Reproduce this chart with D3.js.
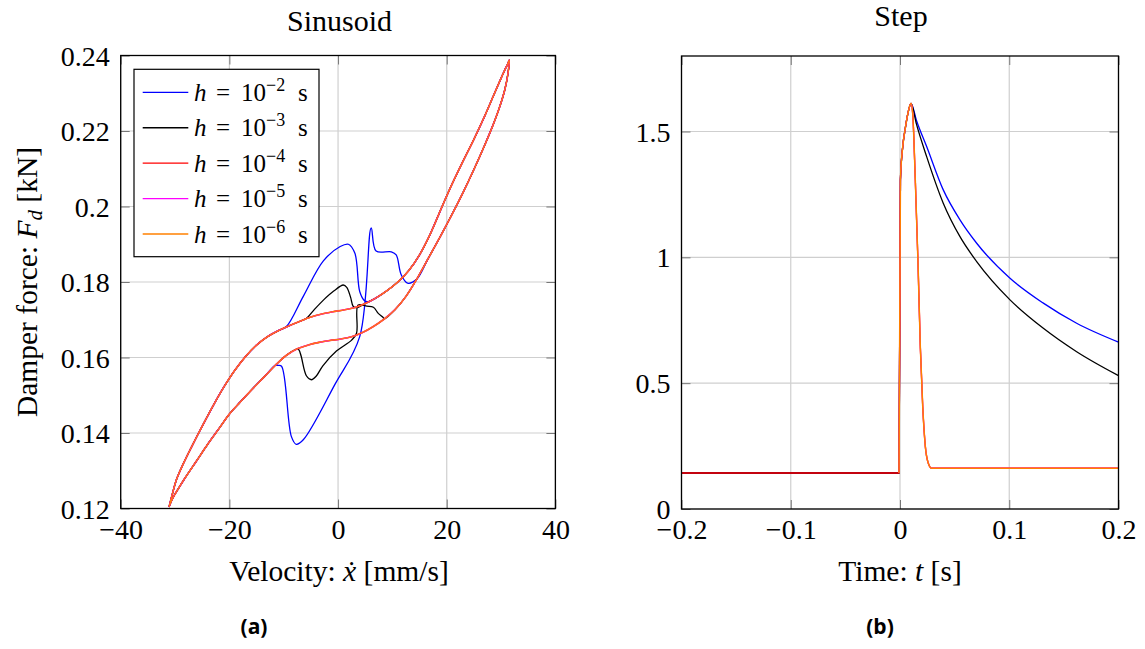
<!DOCTYPE html>
<html>
<head>
<meta charset="utf-8">
<script src="https://cdn.jsdelivr.net/npm/d3@7"></script>
<style>
  body { margin: 0; background: #fff; }
  text { fill: #000; }
</style>
</head>
<body>
<div id="chart"></div>
<script>
// ---------- data ----------
var hExp = ["−2", "−3", "−4", "−5", "−6"];

var velTicks = [-40, -20, 0, 20, 40];
var velTickLabels = ["−40", "−20", "0", "20", "40"];
var forceTicks = [0.12, 0.14, 0.16, 0.18, 0.2, 0.22, 0.24];
var forceTickLabels = ["0.12", "0.14", "0.16", "0.18", "0.2", "0.22", "0.24"];
var timeTicks = [-0.2, -0.1, 0, 0.1, 0.2];
var timeTickLabels = ["−0.2", "−0.1", "0", "0.1", "0.2"];
var stepTicks = [0, 0.5, 1, 1.5];
var stepTickLabels = ["0", "0.5", "1", "1.5"];

// sinusoid, converged loop (h = 1e-4 ... 1e-6)
// branch with increasing velocity
var upV = [-31.1, -30.5, -29.7, -28.5, -27, -25, -23, -21, -19, -17, -15, -13, -11, -9, -7, -5, -3, -1, 1, 3, 5, 7, 9, 11, 13, 15, 17, 19, 21, 23, 25, 27, 28.5, 29.7, 30.7, 31.3, 31.5];
var upF = [0.1204, 0.1238, 0.1278, 0.1318, 0.1362, 0.1418, 0.1472, 0.1522, 0.1566, 0.1603, 0.1633, 0.1655, 0.1671, 0.1684, 0.1696, 0.1707, 0.1715, 0.1721, 0.1726, 0.1732, 0.1743, 0.1758, 0.1777, 0.1800, 0.1830, 0.1872, 0.1928, 0.1995, 0.2060, 0.2120, 0.2178, 0.2240, 0.2290, 0.2330, 0.2362, 0.2380, 0.2388];
// branch with decreasing velocity
var dnV = [31.5, 31.3, 30.7, 29.7, 28.5, 27, 25, 23, 21, 18.8, 16.5, 14.5, 12.5, 10.5, 8.5, 6.5, 4.5, 2.5, 0.5, -1.5, -3.5, -5.5, -7.5, -9.5, -11.5, -13.5, -16, -18, -20, -22, -24, -26, -28.2, -29.5, -30.4, -30.9, -31.1];
var dnF = [0.2388, 0.2355, 0.2310, 0.2262, 0.2215, 0.2163, 0.2098, 0.2037, 0.1980, 0.1920, 0.1860, 0.1808, 0.1762, 0.1727, 0.1702, 0.1682, 0.1666, 0.1655, 0.1649, 0.1645, 0.1640, 0.1633, 0.1623, 0.1606, 0.1580, 0.1550, 0.1513, 0.1482, 0.1450, 0.1410, 0.1370, 0.1327, 0.1280, 0.1250, 0.1228, 0.1212, 0.1204];

// h = 1e-2 departures from the loop
var h2UpV = [-9.5, -6.4, -2.7, 0.4, 1.9, 3.1, 4.0, 4.9, 5.6];
var h2UpF = [0.1682, 0.1762, 0.1856, 0.1894, 0.1900, 0.1876, 0.1774, 0.1750, 0.1748];
var h2DnV = [12.8, 11.6, 10.7, 9.8, 7.0, 6.1, 4.0, -0.6, -6.4, -7.7, -8.6, -10.4, -11.1];
var h2DnF = [0.1797, 0.1820, 0.1872, 0.1880, 0.1882, 0.1943, 0.1656, 0.1528, 0.1382, 0.1370, 0.1391, 0.1577, 0.1579];

// h = 1e-3 departures from the loop
var h3UpV = [-5.8, -4.3, -2.7, -0.8, 0.96, 1.6, 2.3, 2.8, 3.4];
var h3UpF = [0.1704, 0.1728, 0.1752, 0.1776, 0.1792, 0.1786, 0.1760, 0.1735, 0.1732];
var h3DnV = [8.3, 7.4, 6.5, 5.3, 3.7, 3.4, 2.5, -0.3, -2.8, -4.0, -4.9, -5.8, -6.8, -7.2];
var h3DnF = [0.1706, 0.1717, 0.1733, 0.1736, 0.1739, 0.1664, 0.1646, 0.1617, 0.1578, 0.1551, 0.1541, 0.1551, 0.1604, 0.1620];

// step response: baseline before the step
var baseT = [-0.2];
var baseF = [0.143];
// common rise
var riseT = [-0.0009, 0.0004, 0.0025, 0.0046, 0.0076, 0.0101];
var riseF = [0.143, 1.308, 1.44, 1.506, 1.579, 1.612];
// decay after the peak
var decayH2T = [0.015, 0.0244, 0.0396, 0.0549, 0.0702, 0.1007, 0.1312, 0.1617, 0.2];
var decayH2F = [1.545, 1.440, 1.268, 1.149, 1.056, 0.917, 0.818, 0.738, 0.663];
var decayH3T = [0.015, 0.0244, 0.0396, 0.0549, 0.0702, 0.1007, 0.1312, 0.1617, 0.2];
var decayH3F = [1.530, 1.400, 1.215, 1.082, 0.983, 0.831, 0.718, 0.625, 0.530];
var decayFineT = [0.0116, 0.0140, 0.0165, 0.0186, 0.0208, 0.0232, 0.0259, 0.0290, 0.2];
var decayFineF = [1.573, 1.308, 0.976, 0.645, 0.407, 0.248, 0.182, 0.162, 0.162];

var colors = ["#0000ff", "#000000", "#ff0000", "#ff00ff", "#ff8000"];
var sinWidths = [1.3, 1.3, 1.6, 1.3, 1.1];
var stepWidths = [1.3, 1.3, 1.3, 1.3, 1.5];

// ---------- helpers ----------
function zip(a, b) { return a.map(function(d, i) { return [d, b[i]]; }); }

var up = zip(upV, upF), dn = zip(dnV, dnF);
var loop = up.concat(dn.slice(1));

var sinSeries = [
  up.filter(function(d) { return d[0] < -9.5; })
    .concat(zip(h2UpV, h2UpF))
    .concat(up.filter(function(d) { return d[0] >= 7; }))
    .concat(dn.filter(function(d) { return d[0] >= 14.5; }).slice(1))
    .concat(zip(h2DnV, h2DnF))
    .concat(dn.filter(function(d) { return d[0] <= -11.5; })),
  up.filter(function(d) { return d[0] < -5.8; })
    .concat(zip(h3UpV, h3UpF))
    .concat(up.filter(function(d) { return d[0] >= 5; }))
    .concat(dn.filter(function(d) { return d[0] >= 8.5; }).slice(1))
    .concat(zip(h3DnV, h3DnF))
    .concat(dn.filter(function(d) { return d[0] <= -7.5; })),
  loop, loop, loop
];

var base = zip(baseT, baseF), rise = zip(riseT, riseF);
var fine = rise.concat(zip(decayFineT, decayFineF));
var stepSeries = [
  base.concat(rise, zip(decayH2T, decayH2F)),
  base.concat(rise, zip(decayH3T, decayH3F)),
  base.concat(fine), fine, fine
];

// ---------- drawing ----------
var serif = "'Liberation Serif', 'DejaVu Serif', serif";

var svg = d3.select("#chart")
  .append("svg")
    .attr("width", 1145)
    .attr("height", 649)
    .style("background", "#fff");

function panel(cfg) {
  var x = d3.scaleLinear().domain(cfg.xDomain).range([cfg.left, cfg.right]);
  var y = d3.scaleLinear().domain(cfg.yDomain).range([cfg.bottom, cfg.top]);
  var g = svg.append("g");

  var clipId = "clip" + cfg.id;
  svg.append("clipPath").attr("id", clipId)
    .append("rect")
      .attr("x", cfg.left).attr("y", cfg.top)
      .attr("width", cfg.right - cfg.left).attr("height", cfg.bottom - cfg.top);

  // grid
  g.selectAll(".vgrid").data(cfg.xTicks).enter().append("line")
    .attr("x1", function(d) { return x(d); }).attr("x2", function(d) { return x(d); })
    .attr("y1", cfg.top).attr("y2", cfg.bottom)
    .attr("stroke", "#cfcfcf").attr("stroke-width", 1.2);
  g.selectAll(".hgrid").data(cfg.yTicks).enter().append("line")
    .attr("y1", function(d) { return y(d); }).attr("y2", function(d) { return y(d); })
    .attr("x1", cfg.left).attr("x2", cfg.right)
    .attr("stroke", "#cfcfcf").attr("stroke-width", 1.2);

  // curves
  var line = d3.line()
    .x(function(d) { return x(d[0]); })
    .y(function(d) { return y(d[1]); })
    .curve(cfg.curve);
  var plot = g.append("g").attr("clip-path", "url(#" + clipId + ")");
  cfg.series.forEach(function(s, i) {
    plot.append("path")
      .attr("d", line(s))
      .attr("fill", "none")
      .attr("stroke", colors[i])
      .attr("stroke-width", cfg.widths[i])
      .attr("stroke-linejoin", "round");
  });

  // ticks pointing inwards
  var tk = 9;
  var bottomAxis = g.append("g").attr("transform", "translate(0," + cfg.bottom + ")")
    .call(d3.axisBottom(x).tickValues(cfg.xTicks)
      .tickFormat(function(d, i) { return cfg.xLabels[i]; })
      .tickSize(-tk).tickPadding(0));
  bottomAxis.selectAll("text")
    .attr("y", 30).attr("dy", 0)
    .style("font-family", serif).style("font-size", "28px");
  var leftAxis = g.append("g").attr("transform", "translate(" + cfg.left + ",0)")
    .call(d3.axisLeft(y).tickValues(cfg.yTicks)
      .tickFormat(function(d, i) { return cfg.yLabels[i]; })
      .tickSize(-tk).tickPadding(11));
  leftAxis.selectAll("text")
    .attr("dy", "0.34em")
    .style("font-family", serif).style("font-size", "28px");
  g.append("g").attr("transform", "translate(0," + cfg.top + ")")
    .call(d3.axisTop(x).tickValues(cfg.xTicks).tickFormat("").tickSize(-tk));
  g.append("g").attr("transform", "translate(" + cfg.right + ",0)")
    .call(d3.axisRight(y).tickValues(cfg.yTicks).tickFormat("").tickSize(-tk));
  g.selectAll(".domain").remove();
  g.selectAll(".tick line").attr("stroke", "#777").attr("stroke-width", 1);

  // frame
  g.append("rect")
    .attr("x", cfg.left).attr("y", cfg.top)
    .attr("width", cfg.right - cfg.left).attr("height", cfg.bottom - cfg.top)
    .attr("fill", "none").attr("stroke", "#000").attr("stroke-width", 1.3);

  return { x: x, y: y, g: g };
}

panel({
  id: "a", left: 120.7, right: 555.4, top: 55.5, bottom: 508.5,
  xDomain: [-40, 40], yDomain: [0.12, 0.24],
  xTicks: velTicks, xLabels: velTickLabels,
  yTicks: forceTicks, yLabels: forceTickLabels,
  series: sinSeries, widths: sinWidths,
  curve: d3.curveCatmullRom.alpha(0.5)
});

panel({
  id: "b", left: 681.5, right: 1118.5, top: 56, bottom: 509,
  xDomain: [-0.2, 0.2], yDomain: [0, 1.8],
  xTicks: timeTicks, xLabels: timeTickLabels,
  yTicks: stepTicks, yLabels: stepTickLabels,
  series: stepSeries, widths: stepWidths,
  curve: d3.curveMonotoneX
});

// titles
svg.append("text").attr("x", 339.5).attr("y", 31).attr("text-anchor", "middle")
  .style("font-family", serif).style("font-size", "30px").text("Sinusoid");
svg.append("text").attr("x", 901).attr("y", 26).attr("text-anchor", "middle")
  .style("font-family", serif).style("font-size", "30px").text("Step");

// axis labels
var xl = svg.append("text").attr("x", 339).attr("y", 581).attr("text-anchor", "middle")
  .style("font-family", serif).style("font-size", "29.5px");
xl.append("tspan").text("Velocity: ");
xl.append("tspan").style("font-style", "italic").text("ẋ");
xl.append("tspan").text(" [mm/s]");

var tl = svg.append("text").attr("x", 900).attr("y", 581).attr("text-anchor", "middle")
  .style("font-family", serif).style("font-size", "29.5px");
tl.append("tspan").text("Time: ");
tl.append("tspan").style("font-style", "italic").text("t");
tl.append("tspan").text(" [s]");

var yl = svg.append("text")
  .attr("transform", "translate(37,282) rotate(-90)")
  .attr("text-anchor", "middle")
  .style("font-family", serif).style("font-size", "29.5px");
yl.append("tspan").text("Damper force: ");
yl.append("tspan").style("font-style", "italic").text("F");
yl.append("tspan").style("font-style", "italic").style("font-size", "21px").attr("dy", 5).text("d");
yl.append("tspan").attr("dy", -5).text(" [kN]");

// sub-captions
svg.append("text").attr("x", 254).attr("y", 634).attr("text-anchor", "middle")
  .style("font-family", "'Open Sans', sans-serif").style("font-weight", "bold")
  .style("font-size", "21px").text("(a)");
svg.append("text").attr("x", 880).attr("y", 634).attr("text-anchor", "middle")
  .style("font-family", "'Open Sans', sans-serif").style("font-weight", "bold")
  .style("font-size", "21px").text("(b)");

// legend
var lg = svg.append("g");
lg.append("rect")
  .attr("x", 134).attr("y", 69.3).attr("width", 185).attr("height", 187.4)
  .attr("fill", "#fff").attr("stroke", "#000").attr("stroke-width", 1.2);
var rowY = d3.scaleLinear().domain([0, 4]).range([92.3, 234]);
hExp.forEach(function(e, i) {
  var ry = rowY(i);
  lg.append("line")
    .attr("x1", 142.7).attr("x2", 188.3).attr("y1", ry).attr("y2", ry)
    .attr("stroke", colors[i]).attr("stroke-width", 1.3);
  var t = lg.append("text").attr("y", ry + 8.5)
    .style("font-family", serif).style("font-size", "25px");
  t.append("tspan").attr("x", 194).style("font-style", "italic").text("h");
  t.append("tspan").attr("x", 216).text("=");
  t.append("tspan").attr("x", 241).text("10");
  t.append("tspan").attr("x", 266).attr("dy", -10).style("font-size", "18px").text(e);
  t.append("tspan").attr("x", 298).attr("dy", 10).text("s");
});
</script>
</body>
</html>
